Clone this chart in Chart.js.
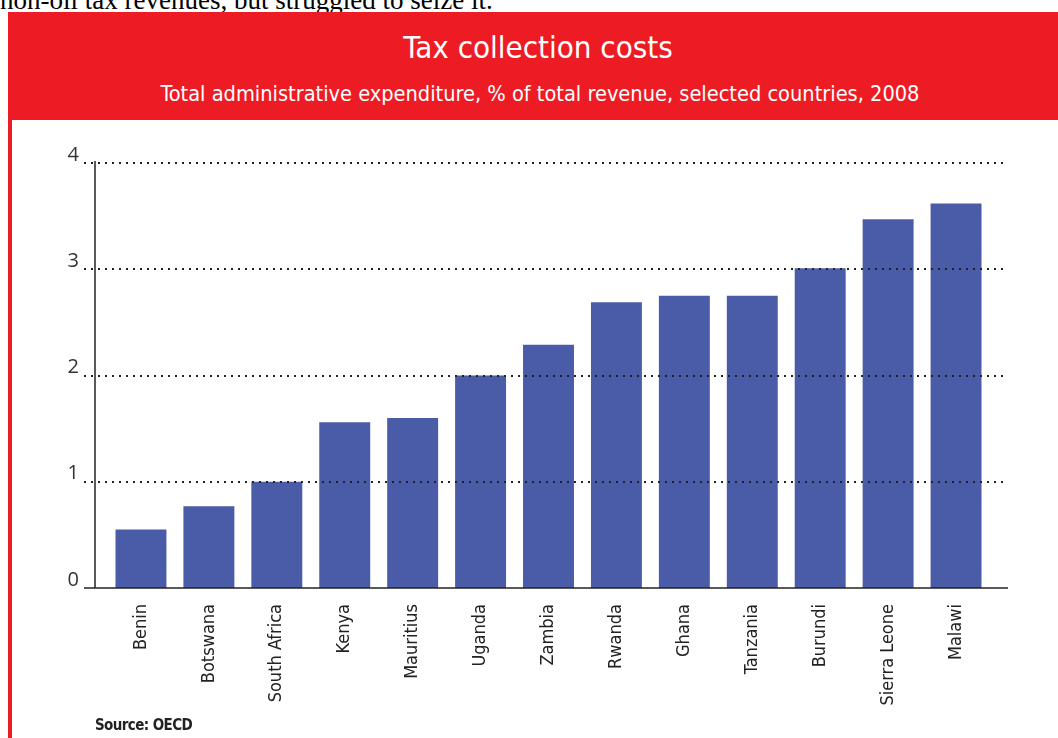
<!DOCTYPE html>
<html>
<head>
<meta charset="utf-8">
<script src="https://cdn.jsdelivr.net/npm/chart.js@4.4.0/dist/chart.umd.min.js"></script>
<style>
  body { margin: 0; width: 1058px; height: 738px; overflow: hidden; background: #fff; position: relative; }
  .intro { position: absolute; left: 0; top: -13px; line-height: 27px; font-family: "Liberation Serif", serif; font-size: 27px; color: #000; white-space: nowrap; }
  .frame { position: absolute; left: 8px; top: 12px; width: 1050px; height: 726px; background: #ed1c24; }
  .title, .subtitle { position: absolute; left: 0; width: 100%; text-align: center; color: #fff; font-family: "Liberation Sans Narrow", "DejaVu Sans Condensed", sans-serif; white-space: nowrap; }
  .title { top: 15px; left: 5px; font-size: 31px; line-height: 40px; }
  .subtitle { top: 69px; left: 7px; font-size: 21.6px; line-height: 26px; }
  .panel { position: absolute; left: 4px; top: 108px; width: 1046px; height: 618px; background: #fff; }
  .source { position: absolute; left: 83px; top: 596px; font-family: "Liberation Sans Narrow", "DejaVu Sans Condensed", sans-serif; font-weight: bold; font-size: 15px; letter-spacing: -0.6px; color: #222; }
</style>
</head>
<body>
<div class="intro">non-oil tax revenues, but struggled to seize it.</div>
<div class="frame">
  <div class="title">Tax collection costs</div>
  <div class="subtitle">Total administrative expenditure, % of total revenue, selected countries, 2008</div>
  <div class="panel">
    <canvas id="myChart" width="1046" height="618"></canvas>
    <div class="source">Source: OECD</div>
  </div>
</div>
<script>
// Chart data
const countries = ['Benin', 'Botswana', 'South Africa', 'Kenya', 'Mauritius', 'Uganda', 'Zambia',
  'Rwanda', 'Ghana', 'Tanzania', 'Burundi', 'Sierra Leone', 'Malawi'];
const costPct = [0.55, 0.77, 1.0, 1.56, 1.6, 2.0, 2.29, 2.69, 2.75, 2.75, 3.01, 3.47, 3.62];
const yTicks = [0, 1, 2, 3, 4];

const labelFont = '"Liberation Sans Narrow", "DejaVu Sans Condensed", sans-serif';

// dotted grid, zero line and the axis line, drawn over the bars like the print version
const axisLines = {
  id: 'axisLines',
  afterDatasetsDraw(chart) {
    const { ctx, scales: { x, y } } = chart;
    const left = x.left - 23;
    const right = x.right + 18;
    const y0 = Math.round(y.getPixelForValue(0));
    ctx.save();
    ctx.strokeStyle = '#222';
    ctx.lineWidth = 2;
    ctx.setLineDash([2, 5]);
    yTicks.forEach(v => {
      if (v === 0) return;
      const py = Math.round(y.getPixelForValue(v));
      ctx.beginPath();
      ctx.moveTo(left, py);
      ctx.lineTo(right, py);
      ctx.stroke();
    });
    ctx.setLineDash([]);
    ctx.lineWidth = 1.5;
    ctx.beginPath();
    ctx.moveTo(left, y0);
    ctx.lineTo(right, y0);
    ctx.stroke();
    const ax = x.left - 12;
    ctx.beginPath();
    ctx.moveTo(ax, y.getPixelForValue(yTicks[yTicks.length - 1]) - 2);
    ctx.lineTo(ax, y0);
    ctx.stroke();
    ctx.restore();
  }
};

const data = {
  labels: countries,
  datasets: [{
    label: 'Admin expenditure, % of revenue',
    data: costPct,
    backgroundColor: '#4a5ba8',
    borderWidth: 0,
    barPercentage: 0.75,
    categoryPercentage: 1
  }]
};

const config = {
  type: 'bar',
  data,
  options: {
    responsive: false,
    animation: false,
    layout: { padding: { top: 43, right: 68, left: 0, bottom: 0 } },
    plugins: {
      legend: { display: false },
      tooltip: { enabled: false }
    },
    scales: {
      x: {
        grid: { display: false, drawTicks: false },
        border: { display: false },
        afterFit: s => { s.height = 150; },
        ticks: {
          autoSkip: false,
          minRotation: 90,
          maxRotation: 90,
          padding: 16,
          color: '#222',
          font: { family: labelFont, size: 18 }
        }
      },
      y: {
        min: 0,
        max: 4,
        grid: { display: false, drawTicks: false },
        border: { display: false },
        afterFit: s => { s.width = 95; },
        afterBuildTicks: s => { s.ticks = yTicks.map(v => ({ value: v })); },
        ticks: {
          padding: 28,
          labelOffset: -8,
          color: '#333',
          font: { family: '"Open Sans", sans-serif', size: 20 }
        }
      }
    }
  },
  plugins: [axisLines]
};

new Chart(document.getElementById('myChart'), config);
</script>
</body>
</html>
